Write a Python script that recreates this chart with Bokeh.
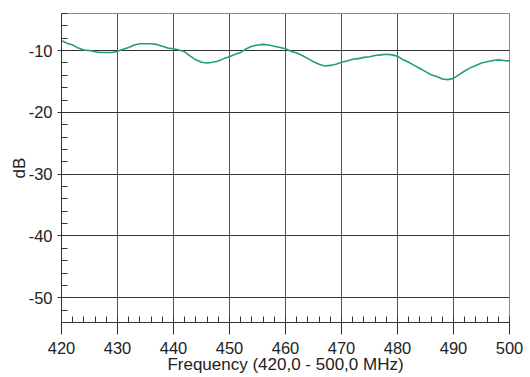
from bokeh.plotting import figure
from bokeh.models import Range1d, FixedTicker, CustomJSTickFormatter
from bokeh.embed import file_html
from bokeh.resources import INLINE

freq_mhz = list(range(420, 501))
level_db = [
    -8.4, -8.8, -9.1, -9.6, -9.9, -10.0, -10.2, -10.3, -10.3, -10.3,
    -10.1, -9.8, -9.5, -9.1, -8.9, -8.9, -8.9, -9.0, -9.3, -9.6,
    -9.7, -9.9, -10.2, -10.9, -11.5, -11.9, -12.0, -11.9, -11.7, -11.3,
    -11.0, -10.6, -10.3, -9.7, -9.3, -9.1, -9.0, -9.1, -9.3, -9.5,
    -9.7, -10.1, -10.4, -10.8, -11.3, -11.8, -12.2, -12.5, -12.4, -12.2,
    -11.9, -11.7, -11.4, -11.3, -11.1, -11.0, -10.8, -10.7, -10.6, -10.7,
    -10.9, -11.5, -11.9, -12.4, -12.9, -13.4, -13.9, -14.2, -14.6, -14.7,
    -14.5, -13.9, -13.3, -12.8, -12.4, -12.0, -11.8, -11.6, -11.5, -11.6,
    -11.7,
]
x_major = [420, 430, 440, 450, 460, 470, 480, 490, 500]
x_minor = list(range(420, 501, 2))
y_major = [-50, -40, -30, -20, -10]
y_minor = list(range(-54, -3, 2))

p = figure(width=530, height=377, output_backend="svg", toolbar_location=None,
           x_range=Range1d(420, 500), y_range=Range1d(-54, -4),
           min_border_left=61, min_border_right=21, min_border_top=13,
           min_border_bottom=55)
p.outline_line_color = "#8a8a8a"
p.outline_line_width = 1

p.xaxis.ticker = FixedTicker(ticks=x_major, minor_ticks=x_minor)
p.yaxis.ticker = FixedTicker(ticks=y_major, minor_ticks=y_minor)
fmt = CustomJSTickFormatter(code="return String(Math.round(tick));")

for ax in (p.xaxis[0], p.yaxis[0]):
    ax.formatter = fmt
    ax.axis_line_color = "#333333"
    ax.major_tick_line_color = "#333333"
    ax.minor_tick_line_color = "#333333"
    ax.major_tick_in = 0
    ax.minor_tick_in = 6
    ax.minor_tick_out = 0
    ax.major_label_text_font = "Liberation Sans"
    ax.major_label_text_font_size = "16.5px"
    ax.major_label_text_color = "#222222"
    ax.axis_label_text_font = "Liberation Sans"
    ax.axis_label_text_font_size = "17px"
    ax.axis_label_text_font_style = "normal"
    ax.axis_label_text_color = "#222222"

p.xaxis.major_tick_out = 12
p.xaxis.major_label_standoff = 7
p.xaxis.axis_label = "Frequency (420,0 - 500,0 MHz)"
p.xaxis.axis_label_standoff = -2
p.yaxis.major_tick_out = 4
p.yaxis.major_label_standoff = 5
p.yaxis.axis_label = "dB"
p.yaxis.axis_label_standoff = -3

p.xgrid.ticker = FixedTicker(ticks=x_major)
p.ygrid.ticker = FixedTicker(ticks=y_major)
p.xgrid.grid_line_color = "#555555"
p.ygrid.grid_line_color = "#333333"
p.xgrid.grid_line_width = 1
p.ygrid.grid_line_width = 1

p.line(freq_mhz, level_db, line_color="#22a06a", line_width=1.6)

open("out.html", "w").write(file_html(p, INLINE))
